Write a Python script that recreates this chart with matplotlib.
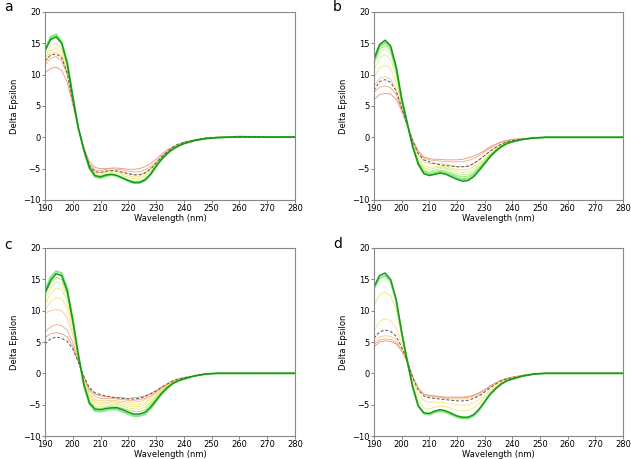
import numpy as np
import matplotlib
matplotlib.use("Agg")
import matplotlib.pyplot as plt

# wavelength grid (nm) shared by all spectra
wl = [190, 192, 194, 196, 198, 200, 202, 204, 206, 208, 210, 212, 214, 216, 218,
      220, 222, 224, 226, 228, 230, 232, 234, 236, 238, 240, 244, 248, 252, 260, 270, 280]

# panel a spectra (most helical -> least)
a_dkgreen = [13.8, 15.6, 16.0, 15.0, 11.8, 6.5, 1.5, -2.0, -4.8, -6.1, -6.3, -6.0, -5.9, -6.1, -6.5, -6.9, -7.2, -7.2, -6.8, -5.9, -4.6, -3.5, -2.6, -1.9, -1.4, -1.0, -0.5, -0.2, -0.05, 0.1, 0.05, 0.05]
a_green = [14.0, 16.0, 16.4, 15.3, 12.0, 6.6, 1.5, -2.1, -5.0, -6.3, -6.5, -6.2, -6.0, -6.2, -6.6, -7.0, -7.3, -7.3, -6.9, -6.0, -4.7, -3.5, -2.6, -1.9, -1.4, -1.0, -0.5, -0.2, -0.05, 0.1, 0.05, 0.05]
a_ltgreen = [13.6, 15.8, 16.2, 15.1, 11.8, 6.5, 1.5, -2.0, -4.9, -6.2, -6.4, -6.1, -5.9, -6.1, -6.4, -6.8, -7.0, -7.0, -6.6, -5.8, -4.6, -3.4, -2.5, -1.8, -1.3, -1.0, -0.5, -0.2, -0.05, 0.1, 0.05, 0.05]
a_ygreen = [12.8, 14.6, 15.0, 14.1, 11.2, 6.3, 1.5, -2.0, -4.8, -6.0, -6.1, -5.8, -5.6, -5.8, -6.1, -6.4, -6.6, -6.6, -6.2, -5.5, -4.4, -3.3, -2.4, -1.7, -1.2, -0.9, -0.4, -0.15, 0.0, 0.1, 0.05, 0.05]
a_yellow = [12.3, 13.8, 14.2, 13.4, 10.8, 6.1, 1.5, -1.9, -4.6, -5.8, -5.9, -5.6, -5.4, -5.5, -5.8, -6.1, -6.3, -6.3, -5.9, -5.2, -4.2, -3.2, -2.4, -1.7, -1.2, -0.9, -0.4, -0.15, 0.0, 0.05, 0.0, 0.0]
a_ltorange = [11.8, 13.3, 13.6, 12.9, 10.4, 5.9, 1.5, -1.8, -4.4, -5.5, -5.6, -5.4, -5.2, -5.3, -5.5, -5.8, -5.9, -5.9, -5.6, -5.0, -4.1, -3.1, -2.3, -1.6, -1.1, -0.8, -0.4, -0.1, 0.0, 0.05, 0.0, 0.0]
a_dashed = [12.2, 13.1, 13.3, 12.7, 10.3, 5.9, 1.5, -1.9, -4.5, -5.5, -5.6, -5.4, -5.3, -5.4, -5.6, -5.8, -6.0, -6.0, -5.7, -5.1, -4.1, -3.1, -2.3, -1.6, -1.1, -0.8, -0.4, -0.1, 0.0, 0.0, 0.0, 0.0]
a_orange = [11.5, 12.6, 12.9, 12.2, 9.9, 5.7, 1.5, -1.7, -4.2, -5.2, -5.3, -5.1, -5.0, -5.1, -5.2, -5.4, -5.5, -5.5, -5.2, -4.7, -3.9, -3.0, -2.2, -1.6, -1.1, -0.8, -0.4, -0.1, 0.0, 0.0, 0.0, 0.0]
a_salmon = [10.3, 11.0, 11.2, 10.7, 8.8, 5.2, 1.4, -1.6, -3.9, -4.8, -5.0, -5.0, -4.9, -4.9, -5.0, -5.1, -5.1, -5.0, -4.7, -4.2, -3.5, -2.7, -2.0, -1.5, -1.1, -0.8, -0.4, -0.1, 0.0, 0.0, 0.0, 0.0]

# panel b spectra
b_dkgreen = [12.5, 14.8, 15.5, 14.6, 11.3, 6.2, 2.3, -1.5, -4.3, -5.8, -6.1, -5.9, -5.7, -5.9, -6.3, -6.7, -7.0, -6.9, -6.3, -5.3, -4.2, -3.1, -2.2, -1.5, -1.0, -0.7, -0.3, -0.1, 0.0, 0.0, 0.0, 0.0]
b_green = [12.3, 14.5, 15.1, 14.3, 11.1, 6.1, 2.2, -1.5, -4.2, -5.6, -5.9, -5.7, -5.5, -5.7, -6.0, -6.4, -6.7, -6.6, -6.0, -5.1, -4.1, -3.0, -2.2, -1.5, -1.0, -0.7, -0.3, -0.1, 0.0, 0.0, 0.0, 0.0]
b_ltgreen = [12.0, 14.1, 14.6, 13.9, 10.8, 6.0, 2.2, -1.4, -4.0, -5.4, -5.6, -5.4, -5.3, -5.4, -5.7, -6.1, -6.3, -6.2, -5.7, -4.9, -3.9, -2.9, -2.1, -1.5, -1.0, -0.7, -0.3, -0.1, 0.0, 0.0, 0.0, 0.0]
b_palegreen = [11.6, 13.6, 14.1, 13.4, 10.5, 5.8, 2.1, -1.4, -3.9, -5.2, -5.4, -5.2, -5.0, -5.1, -5.4, -5.8, -6.0, -5.9, -5.4, -4.7, -3.8, -2.8, -2.0, -1.4, -1.0, -0.7, -0.3, -0.1, 0.0, 0.0, 0.0, 0.0]
b_ygreen = [10.8, 12.7, 13.2, 12.5, 9.9, 5.6, 2.1, -1.3, -3.7, -4.9, -5.1, -4.9, -4.8, -4.9, -5.1, -5.4, -5.6, -5.5, -5.1, -4.4, -3.6, -2.7, -1.9, -1.3, -0.9, -0.6, -0.3, -0.1, 0.0, 0.0, 0.0, 0.0]
b_yellow = [9.6, 11.1, 11.5, 11.0, 8.9, 5.2, 2.0, -1.1, -3.4, -4.6, -4.8, -4.7, -4.6, -4.7, -4.9, -5.1, -5.2, -5.1, -4.7, -4.1, -3.4, -2.6, -1.9, -1.3, -0.9, -0.6, -0.3, -0.1, 0.0, 0.0, 0.0, 0.0]
b_ltorange = [8.2, 9.4, 9.7, 9.3, 7.7, 4.8, 2.0, -0.8, -2.8, -3.9, -4.2, -4.2, -4.2, -4.3, -4.5, -4.7, -4.7, -4.6, -4.2, -3.6, -2.9, -2.2, -1.6, -1.1, -0.8, -0.5, -0.3, -0.1, 0.0, 0.0, 0.0, 0.0]
b_dashed = [7.5, 8.9, 9.2, 8.8, 7.4, 4.7, 2.0, -0.6, -2.6, -3.6, -3.9, -4.2, -4.4, -4.5, -4.6, -4.7, -4.7, -4.6, -4.2, -3.6, -2.9, -2.2, -1.6, -1.1, -0.7, -0.5, -0.3, -0.1, 0.0, 0.0, 0.0, 0.0]
b_orange = [7.2, 8.0, 8.2, 7.9, 6.8, 4.5, 2.0, -0.5, -2.3, -3.3, -3.6, -3.7, -3.8, -3.9, -3.9, -3.9, -3.9, -3.7, -3.4, -2.9, -2.3, -1.7, -1.2, -0.8, -0.6, -0.4, -0.2, -0.1, 0.0, 0.0, 0.0, 0.0]
b_salmon = [6.0, 6.8, 7.0, 6.9, 6.1, 4.2, 1.9, -0.4, -2.2, -3.1, -3.4, -3.5, -3.5, -3.6, -3.6, -3.6, -3.5, -3.3, -3.0, -2.6, -2.1, -1.5, -1.1, -0.7, -0.5, -0.3, -0.2, -0.1, 0.0, 0.0, 0.0, 0.0]

# panel c spectra
c_dkgreen = [12.8, 14.8, 15.9, 15.6, 13.2, 8.5, 3.0, -1.8, -4.7, -5.7, -5.8, -5.6, -5.5, -5.5, -5.8, -6.2, -6.5, -6.5, -6.2, -5.4, -4.3, -3.2, -2.3, -1.6, -1.2, -0.9, -0.4, -0.1, 0.0, 0.0, 0.0, 0.0]
c_green = [13.2, 15.3, 16.3, 16.0, 13.5, 8.6, 3.0, -1.9, -4.9, -6.0, -6.1, -5.9, -5.7, -5.8, -6.1, -6.5, -6.8, -6.8, -6.5, -5.7, -4.5, -3.3, -2.4, -1.7, -1.2, -0.9, -0.4, -0.1, 0.0, 0.0, 0.0, 0.0]
c_ltgreen = [12.5, 14.4, 15.3, 15.0, 12.7, 8.2, 2.9, -1.7, -4.5, -5.5, -5.6, -5.4, -5.2, -5.3, -5.6, -5.9, -6.1, -6.1, -5.8, -5.0, -4.0, -3.0, -2.2, -1.6, -1.1, -0.8, -0.4, -0.1, 0.0, 0.0, 0.0, 0.0]
c_ygreen = [11.8, 13.6, 14.6, 14.3, 12.2, 7.9, 2.8, -1.6, -4.2, -5.2, -5.3, -5.1, -5.0, -5.0, -5.2, -5.5, -5.7, -5.7, -5.4, -4.7, -3.8, -2.9, -2.1, -1.5, -1.1, -0.8, -0.4, -0.1, 0.0, 0.0, 0.0, 0.0]
c_yellow = [11.0, 12.7, 13.6, 13.4, 11.5, 7.5, 2.7, -1.4, -3.9, -4.8, -5.0, -4.8, -4.7, -4.8, -5.0, -5.2, -5.3, -5.3, -5.0, -4.4, -3.6, -2.7, -2.0, -1.4, -1.0, -0.8, -0.4, -0.1, 0.0, 0.0, 0.0, 0.0]
c_paleyellow = [10.1, 11.4, 12.1, 11.9, 10.4, 6.9, 2.5, -1.2, -3.6, -4.5, -4.7, -4.6, -4.5, -4.6, -4.7, -4.9, -5.0, -4.9, -4.6, -4.1, -3.4, -2.6, -1.9, -1.4, -1.0, -0.8, -0.4, -0.1, 0.0, 0.0, 0.0, 0.0]
c_ltorange = [9.6, 10.0, 10.2, 10.0, 8.9, 6.2, 2.3, -1.0, -3.3, -4.2, -4.4, -4.4, -4.3, -4.4, -4.5, -4.6, -4.6, -4.5, -4.2, -3.8, -3.2, -2.5, -1.8, -1.3, -1.0, -0.7, -0.4, -0.1, 0.0, 0.0, 0.0, 0.0]
c_orange = [6.6, 7.4, 7.8, 7.6, 6.9, 5.0, 2.0, -0.8, -2.8, -3.7, -4.0, -4.0, -4.0, -4.1, -4.2, -4.3, -4.3, -4.2, -4.0, -3.6, -3.0, -2.4, -1.8, -1.3, -1.0, -0.7, -0.4, -0.1, 0.0, 0.0, 0.0, 0.0]
c_salmon = [5.7, 6.3, 6.5, 6.3, 5.8, 4.3, 1.8, -0.6, -2.5, -3.3, -3.6, -3.7, -3.8, -3.9, -3.9, -4.0, -3.9, -3.8, -3.6, -3.2, -2.8, -2.2, -1.7, -1.2, -0.9, -0.7, -0.4, -0.1, 0.0, 0.0, 0.0, 0.0]
c_dashed = [4.7, 5.5, 5.8, 5.6, 5.1, 3.9, 1.8, -0.5, -2.3, -3.1, -3.4, -3.6, -3.8, -3.9, -4.0, -4.1, -4.1, -4.0, -3.7, -3.3, -2.8, -2.2, -1.7, -1.2, -0.9, -0.7, -0.4, -0.1, 0.0, 0.0, 0.0, 0.0]

# panel d spectra
d_dkgreen = [13.8, 15.6, 16.0, 15.0, 11.8, 6.6, 2.0, -2.2, -5.2, -6.3, -6.4, -6.0, -5.8, -6.0, -6.4, -6.8, -7.0, -7.0, -6.6, -5.7, -4.5, -3.3, -2.4, -1.7, -1.2, -0.9, -0.4, -0.1, 0.0, 0.0, 0.0, 0.0]
d_green = [13.5, 15.2, 15.6, 14.7, 11.6, 6.5, 2.0, -2.2, -5.2, -6.4, -6.6, -6.2, -6.0, -6.2, -6.6, -7.0, -7.2, -7.2, -6.8, -5.9, -4.6, -3.4, -2.5, -1.7, -1.2, -0.9, -0.4, -0.1, 0.0, 0.0, 0.0, 0.0]
d_yellow = [10.8, 12.5, 13.0, 12.4, 10.2, 6.1, 2.0, -1.8, -4.4, -5.5, -5.7, -5.4, -5.2, -5.3, -5.6, -5.9, -6.0, -5.9, -5.5, -4.8, -3.9, -2.9, -2.2, -1.6, -1.1, -0.8, -0.4, -0.1, 0.0, 0.0, 0.0, 0.0]
d_paleyellow = [6.8, 8.3, 8.7, 8.4, 7.2, 4.8, 2.0, -1.1, -3.3, -4.3, -4.6, -4.6, -4.6, -4.7, -4.9, -5.0, -5.1, -5.0, -4.7, -4.2, -3.5, -2.7, -2.0, -1.4, -1.0, -0.8, -0.4, -0.1, 0.0, 0.0, 0.0, 0.0]
d_dashed = [5.6, 6.6, 6.9, 6.7, 5.9, 4.2, 2.0, -0.7, -2.7, -3.6, -3.9, -4.0, -4.1, -4.2, -4.3, -4.4, -4.4, -4.3, -4.0, -3.6, -3.0, -2.3, -1.7, -1.2, -0.9, -0.7, -0.4, -0.1, 0.0, 0.0, 0.0, 0.0]
d_ltorange = [4.9, 5.8, 6.0, 5.9, 5.3, 3.9, 1.9, -0.6, -2.5, -3.4, -3.7, -3.8, -3.9, -4.0, -4.1, -4.1, -4.1, -4.0, -3.8, -3.4, -2.8, -2.2, -1.6, -1.2, -0.9, -0.7, -0.4, -0.1, 0.0, 0.0, 0.0, 0.0]
d_orange = [4.6, 5.3, 5.5, 5.4, 4.9, 3.7, 1.9, -0.5, -2.4, -3.3, -3.6, -3.7, -3.8, -3.9, -3.9, -3.9, -3.9, -3.8, -3.6, -3.2, -2.7, -2.1, -1.6, -1.1, -0.8, -0.6, -0.3, -0.1, 0.0, 0.0, 0.0, 0.0]
d_salmon = [4.2, 5.0, 5.2, 5.1, 4.7, 3.6, 1.9, -0.5, -2.4, -3.3, -3.5, -3.6, -3.7, -3.8, -3.8, -3.8, -3.8, -3.7, -3.5, -3.1, -2.6, -2.0, -1.5, -1.1, -0.8, -0.6, -0.3, -0.1, 0.0, 0.0, 0.0, 0.0]

# line styles: (color, linewidth, linestyle, alpha)
STYLE = {
    'dkgreen': ('#1a961a', 1.1, '-', 1.0),
    'green': ('#33dd33', 1.5, '-', 0.6),
    'ltgreen': ('#8fdc5c', 0.6, '-', 0.9),
    'palegreen': ('#b8e884', 0.6, '-', 0.9),
    'ygreen': ('#d4ec70', 0.6, '-', 0.9),
    'yellow': ('#eee462', 0.6, '-', 0.9),
    'paleyellow': ('#f6de7c', 0.6, '-', 0.9),
    'ltorange': ('#f6c27e', 0.6, '-', 0.9),
    'orange': ('#f29c6c', 0.6, '-', 0.9),
    'salmon': ('#e6866a', 0.6, '-', 0.9),
    'dashed': ('#555555', 0.7, (0, (3, 2)), 1.0),
}
DRAW_ORDER = ['salmon', 'orange', 'ltorange', 'paleyellow', 'yellow', 'ygreen',
              'palegreen', 'ltgreen', 'green', 'dashed', 'dkgreen']

panels = {
    'a': {'dkgreen': a_dkgreen, 'green': a_green, 'ltgreen': a_ltgreen, 'ygreen': a_ygreen,
          'yellow': a_yellow, 'ltorange': a_ltorange, 'dashed': a_dashed, 'orange': a_orange,
          'salmon': a_salmon},
    'b': {'dkgreen': b_dkgreen, 'green': b_green, 'ltgreen': b_ltgreen, 'palegreen': b_palegreen,
          'ygreen': b_ygreen, 'yellow': b_yellow, 'ltorange': b_ltorange, 'dashed': b_dashed,
          'orange': b_orange, 'salmon': b_salmon},
    'c': {'dkgreen': c_dkgreen, 'green': c_green, 'ltgreen': c_ltgreen, 'ygreen': c_ygreen,
          'yellow': c_yellow, 'paleyellow': c_paleyellow, 'ltorange': c_ltorange,
          'orange': c_orange, 'salmon': c_salmon, 'dashed': c_dashed},
    'd': {'dkgreen': d_dkgreen, 'green': d_green, 'yellow': d_yellow, 'paleyellow': d_paleyellow,
          'dashed': d_dashed, 'ltorange': d_ltorange, 'orange': d_orange, 'salmon': d_salmon},
}

plt.rcParams['font.family'] = 'DejaVu Sans'
fig = plt.figure(figsize=(6.31, 4.59), dpi=100)

# axes rectangles in figure fractions
rects = {
    'a': [0.0713, 0.5643, 0.396, 0.4096],
    'b': [0.5927, 0.5643, 0.3946, 0.4096],
    'c': [0.0713, 0.0501, 0.396, 0.4096],
    'd': [0.5927, 0.0501, 0.3946, 0.4096],
}
label_pos = {'a': (0.006, 0.984), 'b': (0.528, 0.984), 'c': (0.006, 0.466), 'd': (0.528, 0.468)}

for key, curves in panels.items():
    ax = fig.add_axes(rects[key])
    for name in DRAW_ORDER:
        if name not in curves:
            continue
        color, lw, ls, alpha = STYLE[name]
        ax.plot(wl, curves[name], color=color, lw=lw, linestyle=ls, alpha=alpha,
                solid_joinstyle='round')
    ax.set_xlim(190, 280)
    ax.set_ylim(-10, 20)
    ax.set_xticks(np.arange(190, 281, 10))
    ax.set_yticks(np.arange(-10, 21, 5))
    ax.tick_params(labelsize=6, length=2, width=0.5, color='#555555', pad=1)
    for sp in ax.spines.values():
        sp.set_color('#888888')
        sp.set_linewidth(0.8)
    ax.set_xlabel('Wavelength (nm)', fontsize=6, labelpad=0.5)
    ax.set_ylabel('Delta Epsilon', fontsize=6, labelpad=3)
    fig.text(label_pos[key][0], label_pos[key][1], key, fontsize=10, va='center', ha='left')

fig.savefig('out.png', dpi=100)
